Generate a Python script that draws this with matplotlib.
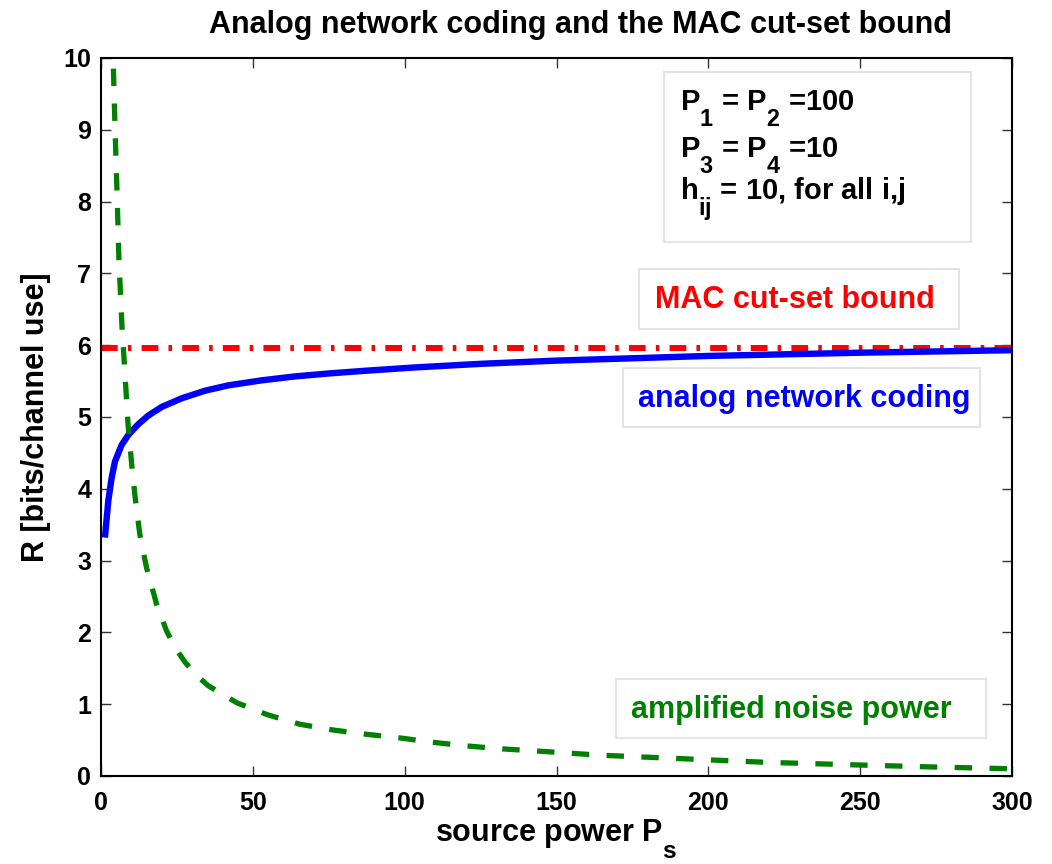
import matplotlib
matplotlib.use('Agg')
import matplotlib.pyplot as plt
from matplotlib.patches import Rectangle

plt.rcParams['font.family'] = ['Liberation Sans', 'DejaVu Sans']
plt.rcParams['font.weight'] = 'bold'
plt.rcParams['axes.labelweight'] = 'bold'
plt.rcParams['mathtext.fontset'] = 'custom'
plt.rcParams['mathtext.rm'] = 'Liberation Sans:bold'
plt.rcParams['mathtext.bf'] = 'Liberation Sans:bold'
plt.rcParams['mathtext.it'] = 'Liberation Sans:bold'
plt.rcParams['mathtext.default'] = 'bf'

# subscripts sit lower, like the tex interpreter does
try:
    import matplotlib._mathtext as _mt
    _mt.FontConstantsBase.sub1 = 1.0
    _mt.SHRINK_FACTOR = 0.8
except Exception:
    pass

# rate achieved with analog network coding vs source power
anc_p = [1.3, 2.4, 3.5, 4.6, 6.8, 9.0, 12.3, 15.6, 20, 26.6, 34.2, 41.9, 52.9,
         63.9, 74.8, 85.8, 103.4, 125, 150, 200, 250, 300]
anc_r = [3.32, 3.83, 4.15, 4.38, 4.61, 4.75, 4.90, 5.02, 5.14, 5.26, 5.365,
         5.44, 5.51, 5.565, 5.605, 5.64, 5.69, 5.74, 5.785, 5.85, 5.895, 5.93]

# amplified noise power
noise_p = [3.5, 4.0, 4.6, 5.3, 5.9, 6.9, 7.9, 8.9, 10.2, 11.2, 12.8, 15, 18.4,
           21.6, 24.5, 27.6, 31, 35.2, 44.7, 55, 65.5, 76.4, 87.5, 98.4, 109,
           120, 131, 150, 164, 197, 219, 252, 274, 300]
noise_v = [11.5, 10.0, 9.05, 8.1, 7.2, 6.27, 5.6, 4.9, 4.3, 3.9, 3.36, 2.9,
           2.38, 2.02, 1.78, 1.59, 1.42, 1.26, 1.02, 0.85, 0.72, 0.64, 0.58,
           0.53, 0.47, 0.42, 0.38, 0.33, 0.29, 0.23, 0.19, 0.15, 0.125, 0.10]

# MAC cut-set bound
mac_p = [0, 300]
mac_r = [5.96, 5.96]

xticks = [0, 50, 100, 150, 200, 250, 300]
yticks = list(range(0, 11))

fig = plt.figure(figsize=(10.52, 8.64), dpi=100)
ax = fig.add_axes([0.096, 0.1019, 0.866, 0.831])

ax.plot(mac_p, mac_r, color='red', lw=4.3, dashes=[2.8, 1.7, 0.6, 1.7])
ax.plot(anc_p, anc_r, color='blue', lw=4.6, solid_capstyle='butt')
ax.plot(noise_p, noise_v, color='green', lw=3.8, dashes=[3.3, 3.3])

ax.set_xlim(0, 300)
ax.set_ylim(0, 10)
ax.set_xticks(xticks)
ax.set_yticks(yticks)
ax.tick_params(direction='in', length=7, width=1.0, color='#333333',
               top=True, right=True, labelsize=18)
ax.tick_params(axis='x', pad=11)
ax.tick_params(axis='y', pad=7)
for s in ax.spines.values():
    s.set_linewidth(1.5)

ax.set_xlabel('source power P$_s$', fontsize=22, labelpad=1)
ax.set_ylabel('R [bits/channel use]', fontsize=22, labelpad=9)
fig.text(0.552, 0.9618, 'Analog network coding and the MAC cut-set bound',
         fontsize=22, ha='center', va='baseline')

# annotation boxes (axes fraction)
for x0, x1, y0, y1 in [(0.618, 0.955, 0.744, 0.981),
                       (0.5906, 0.9418, 0.6226, 0.7061),
                       (0.573, 0.965, 0.4861, 0.5682),
                       (0.5653, 0.9715, 0.0529, 0.1351)]:
    ax.add_patch(Rectangle((x0, y0), x1 - x0, y1 - y0, transform=ax.transAxes,
                           fc='white', ec='#e4e4e4', lw=1.5, zorder=3))

params = ['P$_1$ = P$_2$ =100', 'P$_3$ = P$_4$ =10', 'h$_{ij}$ = 10, for all i,j']
for line, yb in zip(params, [9.28, 8.62, 8.02]):
    ax.text(190.6, yb, line, fontsize=21, ha='left', va='baseline', zorder=4)

ax.text(182.4, 6.52, 'MAC cut-set bound', color='red', fontsize=22,
        ha='left', va='baseline', zorder=4)
ax.text(176.8, 5.14, 'analog network coding', color='blue', fontsize=22,
        ha='left', va='baseline', zorder=4)
ax.text(174.5, 0.81, 'amplified noise power', color='green', fontsize=22,
        ha='left', va='baseline', zorder=4)

fig.savefig('out.png', dpi=100)
